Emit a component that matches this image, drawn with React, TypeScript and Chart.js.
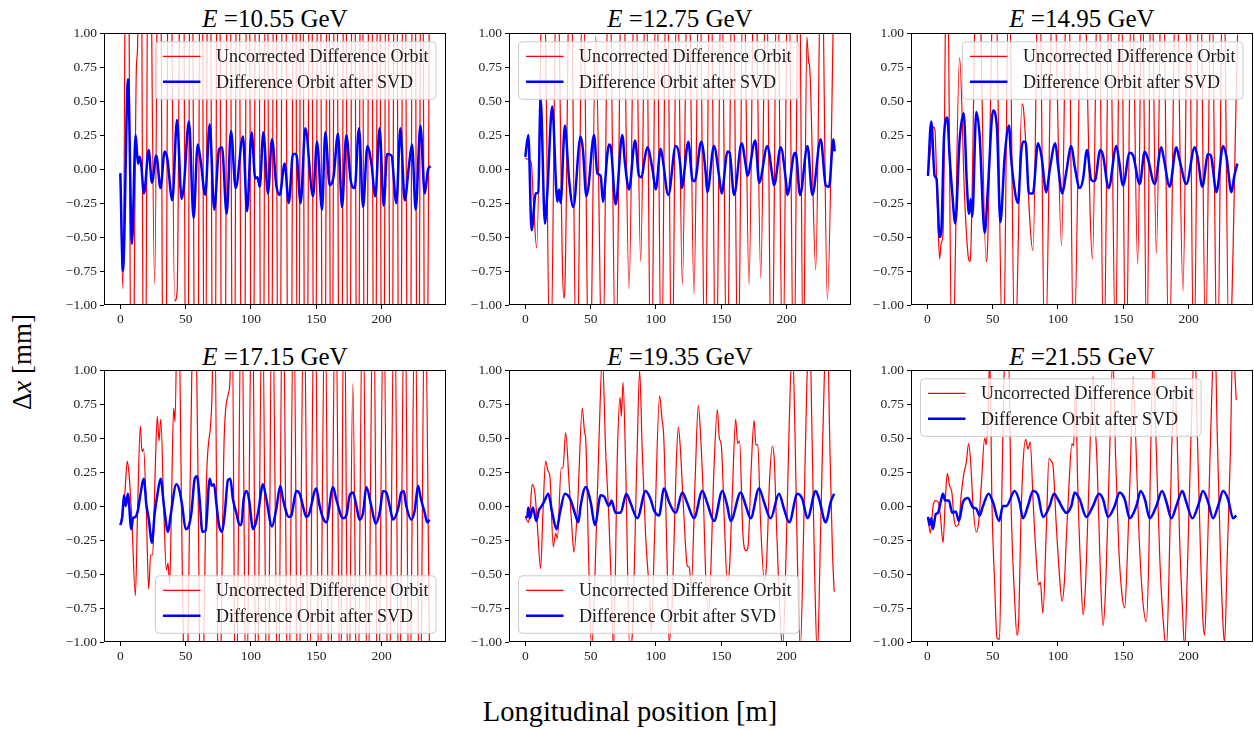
import React, { useEffect, useRef } from "react";
import { Chart, registerables } from "chart.js";

Chart.register(...registerables);

type Pt = [number, number];

const energyLabels = ["10.55", "12.75", "14.95", "17.15", "19.35", "21.55"];
const xTicks = [0, 50, 100, 150, 200];
const yTicks = [-1, -0.75, -0.5, -0.25, 0, 0.25, 0.5, 0.75, 1];
const legendLabels = ["Uncorrected Difference Orbit", "Difference Orbit after SVD"];
const legendCorners = ["top-right", "top-left", "top-right", "bottom-right", "bottom-left", "top-left"];

// ---------- E = 10.55 GeV ----------
const red1: Pt[] = [[0,-0.05],[2,-0.88],[5.2,3.5],[8.8,-2.6],[12.3,0.75],[13.2,0.9],[15.2,3.2],[18.5,-3],[21.8,2.8],[26.3,-0.85],[29.8,3.2],[33.8,-3.5],[37.5,3.0],[41.6,-0.97],[43.5,-0.9],[47.3,4],[50.9,-3.5],[54.1,3.2],[58.2,-4],[62,3.6],[64.6,-3],[67.8,3.8],[71.6,-3.6],[75,3.3],[78.8,-4.2],[83,3.6],[86.7,-3.2],[89.8,3.5],[93.9,-4],[97.8,3.8],[100.9,-3.4],[104.8,3.9],[108.6,-3.8],[111.8,3.2],[115,-3.6],[118.2,3.4],[121.4,-3.3],[125.2,3.7],[129.7,-4.1],[133.5,3.6],[136,-3.1],[138.9,3.3],[142.1,-3.9],[145.6,3.5],[148.8,-3.3],[152,3.8],[155.8,-3.9],[159,3.3],[161.6,-3.1],[164.7,3.6],[168.6,-4],[171.8,3.5],[174.9,-3.4],[178.5,3.9],[181.7,-3.5],[184.5,3.2],[187.7,-3.6],[191.5,4],[194.7,-3.5],[197.7,3.3],[200.9,-3.7],[204.1,3.5],[207.3,-3.4],[210.7,3.9],[213.9,-3.6],[217.1,3.4],[220.9,-4],[224.7,3.7],[227.9,-3.3],[230.7,3.4],[233.9,-3.8],[237,2.5]];
const blue1: Pt[] = [[0,-0.03],[2,-0.75],[5.9,0.66],[8.9,-0.55],[11.7,0.25],[13.5,0.04],[14.8,0.09],[16,0.03],[18.1,-0.18],[21.7,0.14],[24.2,-0.1],[27.5,0.1],[30.8,-0.14],[33.9,0.13],[35.9,0.08],[39.8,-0.23],[43.4,0.36],[46.9,-0.22],[48.5,-0.14],[52.5,0.35],[56.1,-0.36],[59.2,0.18],[61.5,0.06],[65,-0.19],[68.4,0.33],[71.9,-0.3],[75.5,0.14],[77.8,0.16],[81.4,-0.33],[84.7,0.28],[88.3,-0.14],[93.9,0.24],[97,-0.31],[100.5,0.27],[103.3,-0.07],[105,-0.06],[106.7,-0.13],[109.5,0.27],[113,-0.18],[116.1,0.22],[119.4,-0.12],[122,-0.19],[125.8,0.04],[128.9,-0.25],[132.2,0.11],[134.7,0.11],[138,-0.25],[141.6,0.3],[147.5,-0.2],[150.6,0.2],[154.4,-0.3],[156.9,0.27],[160.3,-0.12],[163.3,-0.05],[166.6,0.26],[169.7,-0.28],[173,0.25],[176.3,-0.08],[179.4,-0.14],[182.7,0.3],[185.8,-0.28],[189.1,0.17],[192.2,0.04],[195.2,-0.2],[198.5,0.3],[201.6,-0.27],[204.2,0.11],[207.5,0.1],[211.3,-0.25],[214.4,0.3],[217.7,-0.23],[221,0.03],[223.3,0.18],[226.1,-0.3],[229.7,0.32],[233,-0.18],[235.6,0],[237.6,0.02]];

// ---------- E = 12.75 GeV ----------
const red2: Pt[] = [[0,0.08],[2.5,0.07],[4.5,0.05],[6,-0.2],[8.7,-0.58],[13.9,1.8],[19.1,-1.6],[24.3,1.7],[28.5,-0.75],[29.5,-0.95],[30.5,-0.8],[34.4,1.9],[39.3,-1.7],[44.1,1.6],[49,-1.9],[53.9,0.98],[59,-1.6],[64.1,1.8],[69.2,-1.5],[74.3,1.9],[79.4,-0.88],[84,1.7],[88.3,-0.68],[92.3,1.6],[96.3,-1.8],[100.3,1.7],[104.2,-1.6],[108.2,1.9],[112.2,-1.7],[116.2,1.6],[120.2,-0.85],[124.6,1.8],[129.1,-0.92],[133.3,1.7],[137.5,-1.6],[141.7,1.9],[145.9,-1.8],[150.1,1.6],[154.4,-1.7],[158.6,1.8],[162.8,-1.6],[167,1.7],[171.2,-0.85],[175.7,1.9],[180.2,-0.8],[184.4,1.6],[188.6,-1.8],[192.8,1.7],[197,-1.6],[201.3,1.8],[205.5,-1.7],[209.4,1.9],[212.8,-1.5],[215.5,0.97],[217,0.78],[217.6,0.76],[222.3,-0.74],[226.7,1.8],[231.2,-0.96],[236.5,1.5]];
const blue2: Pt[] = [[0,0.09],[2.3,0.25],[4.8,-0.45],[7.9,-0.18],[9.9,-0.17],[11.7,0.52],[15,-0.4],[16.8,-0.18],[20.6,0.46],[24.5,-0.24],[25.8,-0.15],[27,-0.25],[30.3,0.32],[33.4,-0.07],[36.7,-0.28],[42.3,0.24],[44.1,0.14],[46.7,-0.2],[48.2,-0.14],[52.6,0.25],[55.1,-0.03],[57.7,-0.05],[59.4,-0.24],[62.8,0.11],[64,0.18],[65.3,0.17],[69.1,-0.26],[74.2,0.25],[76.3,0.04],[79.4,-0.15],[84,0.21],[87,-0.05],[89.1,-0.06],[90.9,0.05],[93.4,0.16],[97.3,0],[99.8,-0.15],[103.6,0.15],[104.9,0.09],[109.5,-0.19],[115.1,0.17],[118.9,0],[119.7,-0.14],[124.8,0.2],[127.9,-0.08],[129.6,-0.09],[134.7,0.2],[138,-0.02],[139.3,-0.17],[144.4,0.17],[148.3,-0.05],[150.3,-0.18],[154.8,0.13],[156.4,0.12],[159.8,-0.19],[165.6,0.19],[168.7,0.03],[170,-0.05],[176,0.21],[179,-0.1],[185.3,0.17],[189.1,-0.05],[190.4,-0.12],[195.5,0.16],[199.3,-0.07],[200.6,-0.19],[205.7,0.11],[207,0.12],[210.3,-0.19],[216,0.17],[219.7,-0.19],[226.1,0.22],[230,-0.12],[232.5,-0.13],[235.8,0.22],[236.8,0.13]];

// ---------- E = 14.95 GeV ----------
const red3: Pt[] = [[0.5,-0.05],[2.5,0.15],[4.8,0.31],[5.8,0.29],[7.5,-0.2],[9.4,-0.66],[10.7,-0.54],[12,-0.48],[15,1.8],[19,-1.6],[24.7,0.82],[28.5,-0.2],[31.5,-0.66],[32.4,-0.68],[33.3,-0.6],[38.5,1.9],[45,-0.68],[46,-0.6],[51.5,1.7],[58,-1.5],[62.5,1.5],[67,-1.4],[72.5,0.48],[73.5,0.45],[80.9,-0.6],[85.5,1.8],[90,-1.5],[96.5,1.6],[102.7,-0.56],[107.5,1.9],[112,-1.4],[119,1.7],[126.4,-0.66],[131,1.8],[135,-1.5],[139.5,1.5],[144,-1.3],[148,1.8],[152,-1.6],[156.5,1.6],[161,-0.7],[164.5,1.5],[168,-1.4],[171.5,1.7],[175.3,-0.62],[180,1.9],[185,-1.5],[190.5,1.6],[195.7,-0.9],[200,1.7],[204,-1.5],[208.5,1.9],[213,-1.3],[217.5,1.6],[222,-1.6],[226.5,1.8],[231,-1.4],[237.5,0.99]];
const blue3: Pt[] = [[0.5,-0.05],[3,0.35],[5.6,-0.05],[7,-0.07],[9.4,-0.5],[10.7,-0.46],[12.7,0.22],[15.3,0.38],[17,0.1],[19.1,-0.18],[21.4,-0.4],[24.7,0.21],[27.8,0.41],[30.3,-0.12],[31.9,-0.33],[33.2,-0.22],[34.4,-0.35],[37.5,0.42],[40,0.25],[43.9,-0.47],[46.4,-0.14],[50.3,0.43],[53.3,0.3],[55.9,-0.39],[59.2,0.09],[62.5,0.32],[64,0.1],[66.1,-0.1],[69.4,-0.25],[71.9,0.13],[73.2,0.2],[75.2,0.2],[77.8,-0.18],[80.8,-0.18],[84.7,0.19],[87.3,0.1],[91.1,-0.17],[93.6,-0.01],[98,0.19],[100,0.03],[103.3,-0.18],[106.4,-0.02],[110.2,0.17],[112.8,0.02],[116.6,-0.14],[119.1,-0.08],[122.2,0.14],[125.5,-0.08],[128.1,-0.09],[132.4,0.14],[134.5,0.1],[138.8,-0.14],[144.7,0.17],[146.5,0.08],[149.8,-0.12],[154.9,0.12],[157.5,0.1],[162.6,-0.11],[166.4,0.13],[169,0.07],[174,-0.11],[179.1,0.16],[181,0.08],[185.5,-0.13],[190.6,0.16],[193,0.07],[198.3,-0.11],[204.7,0.16],[207,0.08],[210.5,-0.13],[214.9,0.11],[217,0.1],[221.3,-0.17],[226.4,0.17],[229,0.09],[232.8,-0.17],[235,-0.05],[237.3,0.04]];

// ---------- E = 17.15 GeV ----------
const red4: Pt[] = [[0,-0.14],[2,-0.02],[3.5,0.1],[5.3,0.33],[6.8,0.22],[8.9,-0.12],[11.5,-0.66],[13.3,0],[15.3,0.59],[16.6,0.4],[17.8,0.42],[19.8,0],[21.7,-0.61],[23.2,-0.36],[24.8,-0.36],[26.5,0.2],[28.3,0.66],[29.6,0.48],[31,0.64],[33.2,0],[35.2,-0.47],[36.5,-0.42],[37.8,-0.58],[39.3,0.1],[40.8,0.72],[41.9,0.62],[44,1.8],[47.5,-0.5],[50,-1.8],[53.5,0.2],[56.8,1.9],[59,0.6],[62,-1.8],[66,0.2],[70,0.76],[72,1.6],[75.5,-1.7],[79.5,0.5],[82.5,0.82],[83.8,0.9],[85.5,1.5],[88.3,-1.8],[92.8,1.7],[96.4,-1.6],[100.9,1.8],[104.3,-1.7],[108.7,1.6],[112.6,-1.9],[116.2,1.7],[120.8,-1.6],[124.3,1.8],[128.6,-1.7],[132.7,1.6],[136.2,-1.8],[140.6,1.7],[144.3,-1.6],[148.9,1.9],[152.4,-1.7],[156.7,1.6],[160.2,-1.8],[164.8,1.7],[168.4,-1.6],[171.3,1.8],[174.6,-1.7],[178,0.9],[181.4,-1.8],[185.6,1.7],[189.3,-1.6],[193.7,1.8],[197.2,-1.7],[201.6,1.6],[205.3,-1.8],[209.8,1.7],[213.4,-1.6],[217.7,1.8],[221.2,-1.7],[225.6,1.6],[229.3,-1.8],[233.1,1.7],[236.8,-1.2]];
const blue4: Pt[] = [[0,-0.14],[1.5,-0.08],[2.8,0.08],[4.1,0],[5.8,0.09],[8.4,-0.17],[9.7,-0.09],[11.5,-0.08],[13.5,-0.03],[14.8,0.05],[18.1,0.2],[19.8,0.02],[21.7,-0.09],[24.2,-0.27],[26.3,-0.05],[28.3,0.08],[30.9,0.2],[33.4,0],[36.5,-0.19],[38.5,-0.07],[42.9,0.16],[45.4,0.11],[47.4,0],[50,-0.17],[51.8,-0.16],[54.4,-0.05],[56.9,0.2],[58.7,0.22],[60.7,0.05],[62.8,-0.19],[65.3,-0.18],[68.4,0.2],[70,0.15],[71.7,0.16],[73.5,0.02],[75.5,-0.14],[77.8,-0.19],[79.8,-0.07],[82.4,0.19],[84.2,0.2],[86.2,0.05],[88.8,-0.05],[91.3,-0.14],[92.6,-0.14],[94.4,0.05],[96.5,0.11],[98.5,0.05],[101.6,-0.17],[105.4,-0.05],[109.2,0.16],[111.8,0.05],[116.1,-0.15],[119.4,-0.02],[122.5,0.15],[124.5,0.05],[129.1,-0.08],[130.9,-0.07],[134.7,0.11],[137.3,0.09],[139.8,0],[142.4,-0.08],[144.4,-0.06],[150,0.13],[152.6,0],[155.2,-0.09],[157.7,-0.12],[162.8,0.14],[165.3,0.05],[170.5,-0.09],[173,-0.07],[175.6,0.08],[178.1,0.1],[180.7,0],[183.2,-0.1],[185.8,-0.05],[188.3,0.14],[192.1,0],[195.5,-0.13],[198.5,-0.05],[201.1,0.11],[203.6,0.1],[206.2,0],[208.8,-0.1],[212.6,-0.02],[215.1,0.1],[216.9,0.11],[218.9,0],[222.8,-0.1],[225.4,-0.03],[227.9,0.15],[229.7,0.07],[233,-0.05],[235,-0.12],[236.8,-0.1]];

// ---------- E = 19.35 GeV ----------
const red5: Pt[] = [[0,-0.08],[2.3,-0.12],[3.5,-0.05],[5.3,0.16],[7.4,0.09],[9.2,-0.14],[11.7,-0.46],[13.5,-0.05],[15.5,0.33],[17.3,0.26],[18.8,0.22],[21.4,-0.3],[23.2,-0.2],[24.5,-0.24],[27.5,0.28],[28.8,0.28],[30.9,0.54],[33.5,0.17],[35.5,-0.14],[37.2,-0.34],[40,0],[43.6,0.72],[45.4,0.54],[46.2,0.5],[48.5,-0.4],[50.8,-1.05],[53,-0.6],[56.4,0.49],[59,1.1],[61.5,0.4],[64,-0.1],[66.1,-0.68],[67.5,-1.05],[70.5,0.4],[72.5,0.8],[73.5,0.66],[74.8,0.91],[76.8,0.3],[79.9,-1.05],[81.5,-1],[85.5,0.37],[87.5,1],[89.5,0.4],[92,-0.2],[95.2,-0.68],[96.4,-0.92],[99,-0.2],[102.8,0.81],[104.5,0.65],[106,0.5],[108.5,-0.4],[110,-1],[112.5,-0.7],[115.5,0.3],[117.1,0.58],[118.5,0.45],[121,0],[124,-0.44],[125.5,-0.45],[127,-0.6],[130,0.2],[132.4,0.74],[134,0.55],[136.5,0],[138,-0.5],[140,-0.78],[141.5,-0.6],[144.5,0.3],[147,0.71],[148.5,0.5],[150,0.45],[152.5,-0.15],[154.5,-0.55],[156,-0.5],[158.5,0.1],[161,0.64],[162.5,0.46],[164,0.48],[166.5,-0.2],[169,-0.33],[170.5,-0.3],[173,0.3],[175.1,0.63],[176.5,0.45],[178,0.45],[180,-0.1],[183,-0.55],[184.5,-0.45],[187,0.2],[189.1,0.44],[190.5,0.35],[192.5,-0.2],[195,-0.8],[197,-1.05],[200,-0.2],[202,0.6],[204.4,1.2],[206.5,0.5],[208.5,-0.5],[210.5,-1.05],[213,-0.2],[215.5,0.9],[217.7,1.3],[219.5,0.5],[221.5,-0.5],[223.5,-1.1],[226,-0.2],[229,1],[231.2,1.3],[233,0.5],[235,-0.3],[236.4,-0.63]];
const blue5: Pt[] = [[0,-0.08],[1.5,-0.08],[2.3,-0.01],[3.5,-0.09],[5.8,-0.01],[8.4,-0.11],[10.4,-0.03],[12.5,0],[14.3,0.03],[17.6,0.09],[20.6,-0.05],[24,-0.17],[26.5,-0.05],[30.3,0.09],[34.4,0.05],[38.5,-0.07],[40.6,-0.12],[42.3,0],[46.2,0.14],[50,0.03],[53.3,-0.14],[57.7,0.08],[60.3,0.07],[64,0],[66,0.04],[69.1,-0.05],[72.9,-0.05],[77.3,0.09],[80.6,0.02],[85.7,-0.09],[92.1,0.11],[95.9,0.05],[98.5,-0.03],[102.3,-0.07],[106.2,0.13],[110,0.03],[115.1,-0.05],[120.2,0.1],[124,0.02],[129.1,-0.09],[135.5,0.11],[139.3,0.02],[144.5,-0.11],[150.8,0.11],[154.6,0],[157.2,-0.11],[164.9,0.1],[168.8,0],[172.5,-0.09],[178.9,0.13],[182.7,0.03],[187.8,-0.09],[194.2,0.09],[198,-0.02],[202,-0.12],[208.3,0.09],[212.1,0.05],[216,-0.09],[222.3,0.11],[224.9,0.05],[230,-0.12],[233.8,0.03],[236.4,0.09]];

// ---------- E = 21.55 GeV ----------
const red6: Pt[] = [[0.5,-0.08],[2.3,-0.2],[4.4,0],[6.4,0.04],[8.2,0.03],[10,-0.07],[12,-0.27],[13.8,0.05],[15.3,0.24],[17,0.15],[18.8,0.1],[20.5,-0.1],[22.2,-0.15],[24,-0.13],[26,0.09],[28,0.24],[29.8,0.32],[31.6,0.46],[33.2,0.32],[35,0],[37.5,-0.19],[39.3,-0.12],[41.3,0.15],[43.9,0.5],[45.1,0.45],[46.4,0.66],[47.8,1.1],[49.5,0],[51.5,-0.56],[53.3,-0.97],[55.3,-0.98],[56.9,0],[58,0.62],[59.5,1.15],[62,1.15],[64.3,-0.07],[66.8,-0.68],[68.6,-0.95],[70.1,-0.8],[71.4,-0.2],[73.2,0.3],[75.3,0.49],[77,0.42],[78.8,0.47],[80.9,0.05],[83.4,-0.39],[85.2,-0.58],[86.5,-0.56],[88.5,-0.79],[91,-0.2],[93.1,0.35],[94.9,0.33],[96.2,0.3],[98.7,-0.14],[101.3,-0.53],[103.1,-0.7],[105.1,-0.53],[106.4,-0.24],[108.4,0.15],[110.7,0.46],[112,0.44],[113.5,0.9],[115,0.2],[117.5,-0.5],[119.2,-0.8],[121,-0.6],[123.5,0.1],[126.8,0.95],[128.5,0.6],[130,0.3],[132.5,-0.5],[134.5,-0.88],[136.5,-0.6],[139,0.2],[142.1,1.1],[144,0.4],[146.5,-0.3],[149,-0.65],[151.1,-0.75],[153,-0.4],[155.5,0.3],[157.5,0.95],[159.5,0.5],[162,-0.2],[165,-0.7],[167.7,-0.85],[169.5,-0.4],[171,0.4],[172.8,1.1],[175,0.5],[178,-0.4],[181,-0.9],[183,-1.05],[185,-0.5],[187,0.4],[189.3,0.9],[191,0.6],[193,-0.2],[195.5,-0.8],[197,-1.05],[199,-0.5],[201.5,0.4],[204.7,1.2],[206.5,0.6],[209,-0.3],[211,-0.85],[212.3,-0.95],[214,-0.5],[216.5,0.4],[220,1.3],[222,0.5],[224.5,-0.4],[226.5,-0.9],[227.6,-1],[229.5,-0.4],[232,0.4],[233.8,1.2],[236.5,0.78]];
const blue6: Pt[] = [[0.5,-0.08],[1.8,-0.14],[3,-0.09],[4.3,-0.17],[6.4,-0.06],[8.1,-0.05],[10.7,0.05],[12,0.09],[13.7,0.04],[16.5,0.04],[19.1,-0.05],[21.7,-0.04],[24.2,-0.11],[27.3,0.03],[31.1,0.06],[34.9,-0.01],[37.5,-0.02],[40,-0.07],[42.6,0],[46.9,0.09],[50.2,0.03],[54.9,-0.11],[57.9,0],[60.5,0],[66.8,0.11],[70.6,0.03],[73.2,-0.09],[77,0.0],[80.9,0.11],[84.7,0.08],[88.5,-0.08],[93.6,0],[96.9,0.09],[100,0.05],[103.8,-0.02],[106.4,-0.05],[110.2,0],[112.8,0.1],[116.6,0.05],[121.7,-0.08],[126.8,0],[131.4,0.09],[134.5,0.05],[138.3,-0.08],[143.4,0],[147.2,0.1],[151.1,0.05],[154.9,-0.09],[160,0],[163.3,0.11],[166.5,0.05],[170.2,-0.09],[175.3,0],[179.7,0.11],[183,0.03],[186.8,-0.09],[190.6,0],[195.2,0.11],[198.2,0.03],[202.9,-0.09],[207.2,0],[211,0.11],[214.9,0.03],[218.7,-0.09],[222.6,0],[226.4,0.11],[230.2,0.05],[234,-0.09],[236.6,-0.07]];

const redSeries = [red1, red2, red3, red4, red5, red6];
const blueSeries = [blue1, blue2, blue3, blue4, blue5, blue6];

// ---------- layout ----------
const FONT = '"Liberation Serif", "Times New Roman", serif';
const PLOT_LEFTS = [104, 509, 911];
const PLOT_TOPS = [32, 369];
const PLOT_W = 342;
const PLOT_H = 273;
const Y_AXIS_W = 50;
const X_AXIS_H = 26;
const PAD_T = 10;
const PAD_R = 10;
const X_MIN = -12.5;
const X_MAX = 249.3;

const fmtY = (v: number) => (v < 0 ? "\u2212" : "") + Math.abs(v).toFixed(2);

const framePlugin = {
  id: "mplFrame",
  afterDatasetsDraw(chart: any) {
    const { ctx, chartArea: a } = chart;
    ctx.save();
    ctx.strokeStyle = "#000";
    ctx.lineWidth = 1;
    ctx.strokeRect(Math.round(a.left) + 0.5, Math.round(a.top) + 0.5, Math.round(a.right - a.left) - 1, Math.round(a.bottom - a.top) - 1);
    ctx.restore();
  },
};

const legendPlugin = {
  id: "mplLegend",
  afterDraw(chart: any, _args: any, opts: any) {
    const { ctx, chartArea: a } = chart;
    const corner: string = opts.corner || "top-right";
    ctx.save();
    ctx.font = `18px ${FONT}`;
    const tw = Math.max(...legendLabels.map((t) => ctx.measureText(t).width));
    const w = 60.5 + tw + 7.5;
    const h = 57.5;
    const x = corner.endsWith("right") ? a.right - 10 - w : a.left + 9.5;
    const y = corner.startsWith("top") ? a.top + 8.7 : a.bottom - 8.7 - h;
    const r = 4;
    ctx.beginPath();
    ctx.moveTo(x + r, y);
    ctx.lineTo(x + w - r, y);
    ctx.quadraticCurveTo(x + w, y, x + w, y + r);
    ctx.lineTo(x + w, y + h - r);
    ctx.quadraticCurveTo(x + w, y + h, x + w - r, y + h);
    ctx.lineTo(x + r, y + h);
    ctx.quadraticCurveTo(x, y + h, x, y + h - r);
    ctx.lineTo(x, y + r);
    ctx.quadraticCurveTo(x, y, x + r, y);
    ctx.closePath();
    ctx.fillStyle = "rgba(255,255,255,0.8)";
    ctx.fill();
    ctx.strokeStyle = "#cccccc";
    ctx.lineWidth = 1;
    ctx.stroke();
    const rows = [
      { color: "#ff0000", lw: 1.2, cy: y + 14.5 },
      { color: "#0000ff", lw: 2.6, cy: y + 40 },
    ];
    rows.forEach((row, i) => {
      ctx.beginPath();
      ctx.strokeStyle = row.color;
      ctx.lineWidth = row.lw;
      ctx.moveTo(x + 7.5, row.cy);
      ctx.lineTo(x + 45, row.cy);
      ctx.stroke();
      ctx.fillStyle = "#1a1a1a";
      ctx.textBaseline = "middle";
      ctx.textAlign = "left";
      ctx.fillText(legendLabels[i], x + 60.5, row.cy + 1);
    });
    ctx.restore();
  },
};

function Panel({ idx }: { idx: number }) {
  const ref = useRef<HTMLCanvasElement | null>(null);
  const col = idx % 3;
  const row = Math.floor(idx / 3);
  const left = PLOT_LEFTS[col] - Y_AXIS_W;
  const top = PLOT_TOPS[row] - PAD_T;
  const width = Y_AXIS_W + PLOT_W + PAD_R;
  const height = PAD_T + PLOT_H + X_AXIS_H;

  useEffect(() => {
    if (!ref.current) return;
    const tickFont = { family: FONT, size: 13.5 };
    const chart = new Chart(ref.current, {
      type: "line",
      data: {
        datasets: [
          {
            label: legendLabels[1],
            data: blueSeries[idx].map(([x, y]) => ({ x, y })),
            borderColor: "#0000ff",
            borderWidth: 2.5,
            pointRadius: 0,
            cubicInterpolationMode: "monotone",
            fill: false,
            clip: 0,
          },
          {
            label: legendLabels[0],
            data: redSeries[idx].map(([x, y]) => ({ x, y })),
            borderColor: "#ff0000",
            borderWidth: 1.2,
            pointRadius: 0,
            cubicInterpolationMode: "monotone",
            fill: false,
            clip: 0,
          },
        ],
      },
      options: {
        responsive: false,
        maintainAspectRatio: false,
        animation: false,
        devicePixelRatio: 1,
        layout: { padding: { left: 0, top: PAD_T, right: PAD_R, bottom: 0 } },
        events: [],
        scales: {
          x: {
            type: "linear",
            min: X_MIN,
            max: X_MAX,
            afterBuildTicks: (s: any) => {
              s.ticks = xTicks.map((v) => ({ value: v }));
            },
            afterFit: (s: any) => {
              s.height = X_AXIS_H;
            },
            ticks: {
              font: tickFont,
              color: "#222",
              maxRotation: 0,
              autoSkip: false,
              padding: 2,
              callback: (v: any) => String(v),
            },
            grid: { display: true, drawOnChartArea: false, drawTicks: true, tickLength: 4, tickColor: "#000", tickWidth: 1 },
            border: { display: false },
          },
          y: {
            type: "linear",
            min: -1,
            max: 1,
            afterBuildTicks: (s: any) => {
              s.ticks = yTicks.map((v) => ({ value: v }));
            },
            afterFit: (s: any) => {
              s.width = Y_AXIS_W;
            },
            ticks: {
              font: tickFont,
              color: "#222",
              autoSkip: false,
              padding: 3,
              callback: (v: any) => fmtY(Number(v)),
            },
            grid: { display: true, drawOnChartArea: false, drawTicks: true, tickLength: 4, tickColor: "#000", tickWidth: 1 },
            border: { display: false },
          },
        },
        plugins: {
          legend: { display: false },
          tooltip: { enabled: false },
          title: { display: false },
          mplLegend: { corner: legendCorners[idx] },
        } as any,
      },
      plugins: [framePlugin, legendPlugin],
    } as any);
    return () => chart.destroy();
  }, [idx]);

  return (
    <canvas
      ref={ref}
      width={width}
      height={height}
      style={{ position: "absolute", left, top, width, height }}
    />
  );
}

const titleRowCenters = [18, 356];

export default function App() {
  return (
    <div
      style={{
        position: "absolute",
        left: 0,
        top: 0,
        width: 1254,
        height: 730,
        background: "#fff",
        overflow: "hidden",
        fontFamily: FONT,
        color: "#000",
      }}
    >
      {energyLabels.map((e, i) => {
        const col = i % 3;
        const row = Math.floor(i / 3);
        const cx = PLOT_LEFTS[col] + PLOT_W / 2;
        return (
          <div
            key={"t" + i}
            style={{
              position: "absolute",
              left: cx,
              top: titleRowCenters[row],
              transform: "translate(-50%, -50%)",
              fontSize: 25,
              lineHeight: 1,
              whiteSpace: "nowrap",
            }}
          >
            <i>E</i>&nbsp;=
            {e} GeV
          </div>
        );
      })}
      {energyLabels.map((_, i) => (
        <Panel key={"p" + i} idx={i} />
      ))}
      <div
        style={{
          position: "absolute",
          left: 630,
          top: 712,
          transform: "translate(-50%, -50%)",
          fontSize: 28.5,
          lineHeight: 1,
          whiteSpace: "nowrap",
        }}
      >
        Longitudinal position [m]
      </div>
      <div
        style={{
          position: "absolute",
          left: 22,
          top: 362,
          transform: "translate(-50%, -50%) rotate(-90deg)",
          fontSize: 27,
          lineHeight: 1,
          whiteSpace: "nowrap",
        }}
      >
        {"\u0394"}
        <i>x</i> [mm]
      </div>
    </div>
  );
}
